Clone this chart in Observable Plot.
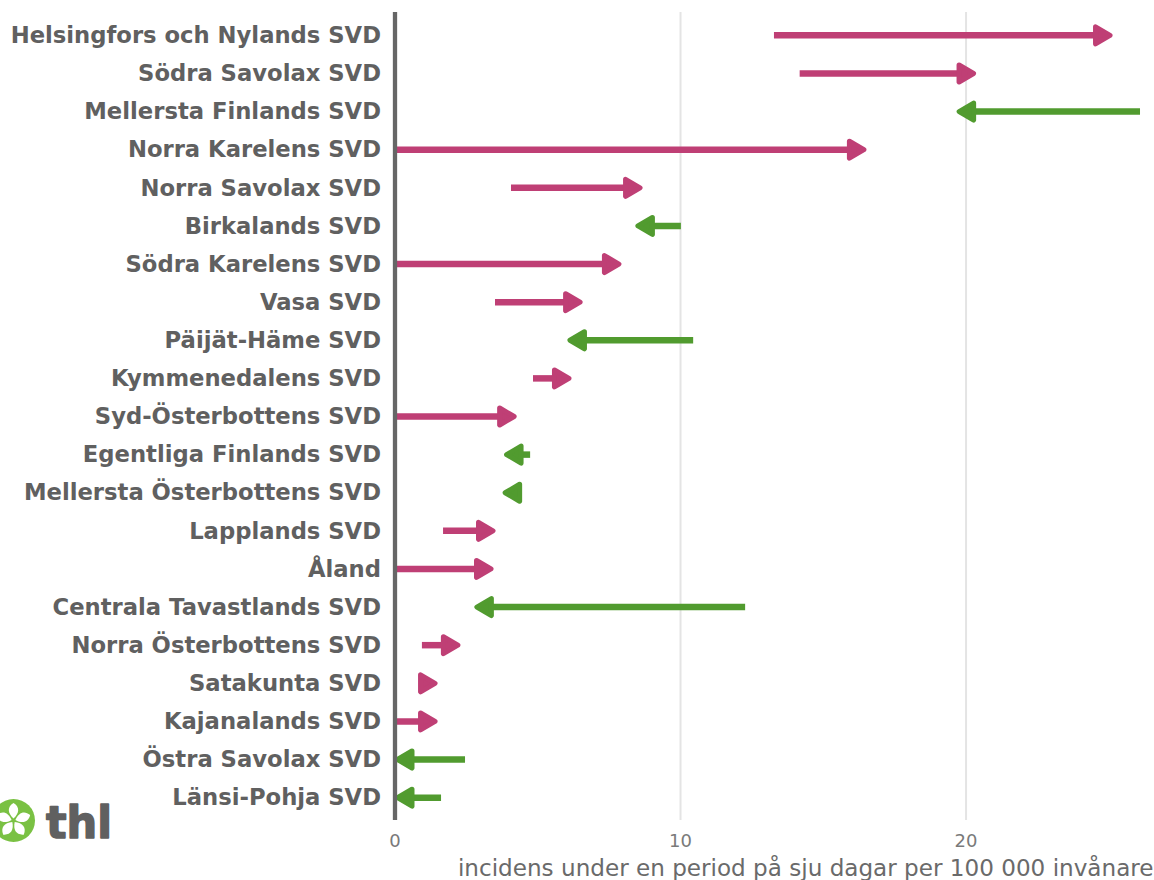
<!DOCTYPE html>
<html><head><meta charset="utf-8">
<script src="https://cdn.jsdelivr.net/npm/d3@7"></script>
<script src="https://cdn.jsdelivr.net/npm/@observablehq/plot@0.6"></script>
<style>
html,body{margin:0;padding:0;background:#fff;}
#wrap{position:relative;width:1154px;height:880px;overflow:hidden;}
#logo{position:absolute;left:0;top:780px;}
</style></head>
<body><div id="wrap"></div>
<script>
const regions = ["Helsingfors och Nylands SVD","Södra Savolax SVD","Mellersta Finlands SVD","Norra Karelens SVD","Norra Savolax SVD","Birkalands SVD","Södra Karelens SVD","Vasa SVD","Päijät-Häme SVD","Kymmenedalens SVD","Syd-Österbottens SVD","Egentliga Finlands SVD","Mellersta Österbottens SVD","Lapplands SVD","Åland","Centrala Tavastlands SVD","Norra Österbottens SVD","Satakunta SVD","Kajanalands SVD","Östra Savolax SVD","Länsi-Pohja SVD"];
const previous = [13.29,14.19,26.11,0,4.08,10.03,0,3.52,10.46,4.85,0,4.75,4.4,1.70,0,12.28,0.96,0.86,0,2.47,1.63];
const current  = [25.13,20.35,19.67,16.51,8.67,8.42,7.93,6.57,6.04,6.18,4.26,3.82,3.77,3.52,3.45,2.78,2.29,1.49,1.49,0,0];
const xTicks = [0,10,20];
const xLabel = "incidens under en period på sju dagar per 100 000 invånare";
const colorUp = "#bf3f75", colorDown = "#519b2f", textColor = "#606060", tickColor = "#7a7a7a";

const rows = regions.map((name,i)=>({name,from:previous[i],to:current[i]}));
const up = rows.filter(d=>d.to>=d.from), down = rows.filter(d=>d.to<d.from);

const headRight = {draw(c){c.moveTo(-17,-8.5);c.lineTo(-2.5,0);c.lineTo(-17,8.5);c.closePath();}};
const headLeft  = {draw(c){c.moveTo(17,-8.5);c.lineTo(2.5,0);c.lineTo(17,8.5);c.closePath();}};

const chart = Plot.plot({
  width:1154, height:880,
  marginLeft:394.5, marginRight:0, marginTop:12, marginBottom:60,
  style:{fontFamily:"'DejaVu Sans',sans-serif",background:"transparent",maxWidth:"none",display:"block"},
  x:{domain:[0,26.6]},
  y:{type:"point",domain:regions,padding:0.6,round:false},
  marks:[
    Plot.ruleX(xTicks.slice(1),{stroke:"#e4e4e4",strokeWidth:2}),
    Plot.ruleY(up,{x1:"from",x2:"to",y:"name",stroke:colorUp,strokeWidth:6.5,insetRight:8}),
    Plot.ruleY(down,{x1:"to",x2:"from",y:"name",stroke:colorDown,strokeWidth:6.5,insetLeft:8}),
    Plot.dot(up,{x:"to",y:"name",symbol:headRight,fill:colorUp,stroke:colorUp,strokeWidth:5,strokeLinejoin:"round"}),
    Plot.dot(down,{x:"to",y:"name",symbol:headLeft,fill:colorDown,stroke:colorDown,strokeWidth:5,strokeLinejoin:"round"}),
    Plot.ruleX([0],{stroke:"#666666",strokeWidth:4.3}),
    Plot.axisY({tickSize:0,tickPadding:14,fontSize:22.7,fontWeight:"bold",fill:textColor,label:null,dy:0.5}),
    Plot.axisX({ticks:xTicks,tickSize:0,tickPadding:13.5,fontSize:18,fill:tickColor,label:null,tickFormat:d=>String(d)}),
    Plot.text([xLabel],{frameAnchor:"bottom-right",dy:55,dx:-1,fontSize:23.1,fill:"#6a6a6a",textAnchor:"end"})
  ]
});
const wrap = document.getElementById("wrap");
wrap.appendChild(chart);
const logo = document.createElementNS("http://www.w3.org/2000/svg","svg");
logo.setAttribute("id","logo");logo.setAttribute("width","130");logo.setAttribute("height","80");
let petals="";
for(let a=0;a<5;a++){petals+=`<path d="M13.5 38.5 C7.5 33 7 27 13.5 23 C20 27 19.5 33 13.5 38.5Z" fill="#fff" transform="rotate(${a*72} 13.5 40.5)"/>`;}
logo.innerHTML=`<circle cx="13.5" cy="40.5" r="21.5" fill="#7ac143"/>${petals}<text x="46" y="58" font-family="'DejaVu Sans',sans-serif" font-weight="bold" font-size="44" fill="#606060" stroke="#606060" stroke-width="1.5" stroke-linejoin="round" textLength="66" lengthAdjust="spacingAndGlyphs">thl</text>`;
wrap.appendChild(logo);
</script></body></html>
